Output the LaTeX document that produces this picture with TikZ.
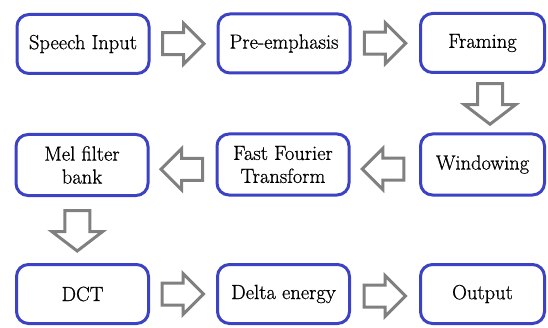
\documentclass[tikz,border=0pt]{standalone}
\usepackage{fontspec}
\newfontfamily\labelfont{Latin Modern Roman}[FakeBold=0.7]
\usetikzlibrary{calc}
\definecolor{boxblue}{RGB}{60,66,196}
\definecolor{arrowgray}{RGB}{128,128,128}
\tikzset{
  stage/.style={draw=boxblue, line width=3pt, rounded corners=12pt, fill=white,
    minimum width=132pt, minimum height=59pt, align=center, inner sep=2pt,
    font=\labelfont\fontsize{20.5}{23}\selectfont},
  narrow/.style={minimum width=124pt},
  hollow/.style={draw=arrowgray, line width=3pt, fill=white, line join=miter},
  rightarrow/.pic={
    \draw[hollow] (-21,-11) -- (0,-11) -- (0,-20.5) -- (20.5,0) -- (0,20.5)
      -- (0,11) -- (-21,11) -- cycle;
  },
  leftarrow/.pic={
    \draw[hollow] (21,-11) -- (0,-11) -- (0,-20.5) -- (-20.5,0) -- (0,20.5)
      -- (0,11) -- (21,11) -- cycle;
  },
  downarrow/.pic={
    \draw[hollow] (-12.5,20.5) -- (-12.5,-0.5) -- (-25.5,-0.5) -- (0,-20)
      -- (25.5,-0.5) -- (12.5,-0.5) -- (12.5,20.5) -- cycle;
  },
}
\begin{document}
\begin{tikzpicture}[x=1pt, y=1pt]
\useasboundingbox (0,0) rectangle (548,327);

% first row
\node[stage] (speech) at (83,283) {Speech Input};
\node[stage] (preemph) at (284,283.5) {Pre-emphasis};
\node[stage, narrow] (framing) at (482.5,284) {Framing};
% second row
\node[stage, minimum height=61pt] (mel) at (82,162) {Mel filter\\bank};
\node[stage, minimum height=61pt] (fft) at (283,162.5) {Fast Fourier\\Transform};
\node[stage, narrow, minimum height=61pt] (window) at (482.5,162.5) {Windowing};
% third row
\node[stage] (dct) at (82.5,33) {DCT};
\node[stage] (delta) at (283.5,33) {Delta energy};
\node[stage, narrow] (output) at (482.5,33) {Output};

% block arrows between the stages
\pic at ($(speech.east)!0.5!(preemph.west)$) {rightarrow};
\pic at ($(preemph.east)!0.5!(framing.west)$) {rightarrow};
\pic at ($(framing.south)!0.5!(window.north)+(7.5,-1)$) {downarrow};
\pic at ($(window.west)!0.5!(fft.east)+(-2,-4.5)$) {leftarrow};
\pic at ($(fft.west)!0.5!(mel.east)+(-1,-4.5)$) {leftarrow};
\pic at ($(mel.south)!0.5!(dct.north)+(-5,-1)$) {downarrow};
\pic at ($(dct.east)!0.5!(delta.west)$) {rightarrow};
\pic at ($(delta.east)!0.5!(output.west)+(0,-2)$) {rightarrow};
\end{tikzpicture}
\end{document}
